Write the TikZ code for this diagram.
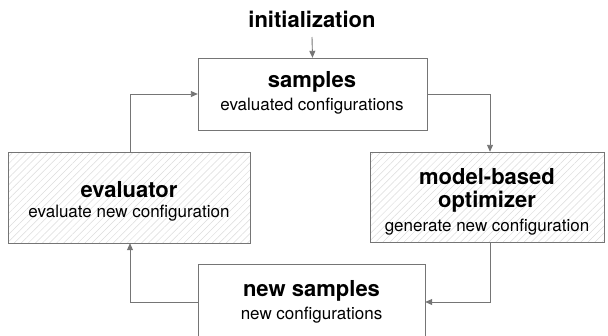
\documentclass[tikz,border=0pt]{standalone}
\usepackage{fontspec}
\setmainfont{TeX Gyre Heros}
\usetikzlibrary{arrows.meta,patterns.meta}
\definecolor{edge}{HTML}{757575}
\definecolor{hatch}{HTML}{DCDCDC}
\tikzset{
  box/.style={draw=edge, line width=0.9pt, fill=white, inner sep=0pt},
  hatched/.style={fill=white, postaction={pattern={Lines[angle=45,distance=5pt,line width=0.5pt]}, pattern color=hatch}, postaction={draw=edge, line width=0.9pt}},
  conn/.style={draw=edge, line width=0.9pt, -{Triangle[length=7pt,width=6pt]}},
  ttl/.style={font=\fontsize{22}{25}\selectfont\bfseries},
  sub/.style={font=\fontsize{17}{20}\selectfont},
}
\begin{document}
\begin{tikzpicture}[x=1pt,y=-1pt]
\useasboundingbox (0,0) rectangle (608,335);
% boxes
\draw[box] (198,58) rectangle (427,130);
\node (samp) at (312.5,94) [minimum width=229pt, minimum height=72pt] {};
\path[hatched] (8,152) rectangle (250,243);
\node (eval) at (129,197.5) [minimum width=242pt, minimum height=91pt] {};
\path[hatched] (370,152) rectangle (604,242);
\node (opt) at (487,197) [minimum width=234pt, minimum height=90pt] {};
\draw[box] (198,264) rectangle (425,340);
\node (news) at (311.5,302) [minimum width=227pt, minimum height=76pt] {};
% texts
\node[ttl] (init) at (312,19) {initialization};
\node[ttl] at (312,82) {samples};
\node[sub] at (312,106) {evaluated configurations};
\node[ttl] at (129,190) {evaluator};
\node[sub] at (129,213) {evaluate new configuration};
\node[ttl] at (487,177) {model-based};
\node[ttl] at (487,202) {optimizer};
\node[sub] at (487,227) {generate new configuration};
\node[ttl] at (311.5,291) {new samples};
\node[sub] at (311.5,315) {new configurations};
% connectors
\coordinate (i1) at (312,37);
\draw[conn] (i1) -- (samp.north);
\draw[conn] (samp.east) -| (opt.north -| 490,0);
\draw[conn] (opt.south -| 490,0) |- (news.east);
\draw[conn] (news.west) -| (eval.south -| 130,0);
\draw[conn] (eval.north -| 130,0) |- (samp.west);
\end{tikzpicture}
\end{document}
